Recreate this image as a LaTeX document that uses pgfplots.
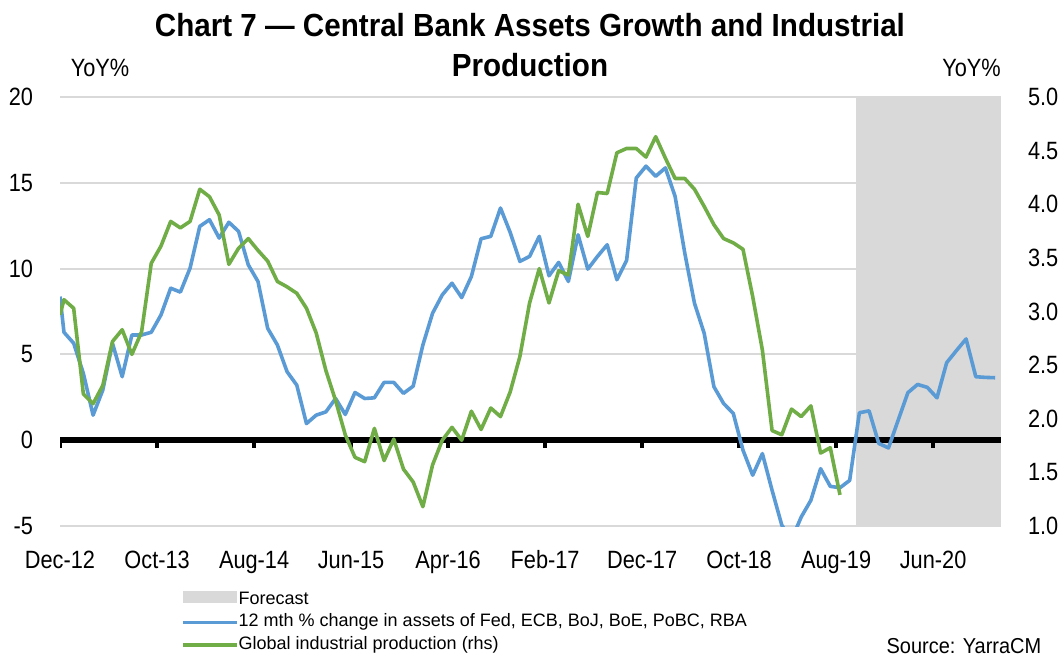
\documentclass[border=0pt]{standalone}
\usepackage{fontspec}
\usepackage{pgfplots}
\pgfplotsset{compat=1.18}
\setmainfont{Liberation Sans}
\newfontfamily\condfont{Liberation Sans}[FakeStretch=0.87]
\newfontfamily\titlefont{Liberation Sans}[FakeStretch=0.925]
\definecolor{cbblue}{HTML}{5B9BD5}
\definecolor{ipgreen}{HTML}{70AD47}
\definecolor{fcgray}{HTML}{D9D9D9}
\definecolor{gridgray}{HTML}{D9D9D9}
\newcommand{\tickfont}{\condfont\fontsize{12.5}{14}\selectfont}
\newcommand{\legfont}{\fontsize{9}{11}\selectfont}

\pgfplotstableread{
k v
-0.41 8.37
0 6.29
1 5.65
2 3.89
3 1.46
4 2.92
5 5.65
6 3.70
7 6.13
8 6.13
9 6.29
10 7.30
11 8.86
12 8.63
13 10.03
14 12.46
15 12.85
16 11.78
17 12.70
18 12.17
19 10.22
20 9.25
21 6.52
22 5.55
23 3.99
24 3.21
25 0.97
26 1.46
27 1.65
28 2.43
29 1.50
30 2.78
31 2.43
32 2.47
33 3.37
34 3.37
35 2.73
36 3.15
37 5.55
38 7.40
39 8.47
40 9.15
41 8.31
42 9.54
43 11.74
44 11.88
45 13.53
46 12.11
47 10.42
48 10.71
49 11.88
50 9.58
51 10.36
52 9.25
53 11.97
54 9.97
55 10.71
56 11.39
57 9.35
58 10.47
59 15.28
60 15.97
61 15.38
62 15.87
63 14.21
64 10.90
65 7.98
66 6.23
67 3.12
68 2.14
69 1.56
70 -0.58
71 -2.04
72 -0.78
73 -2.92
74 -4.95
75 -5.80
76 -4.48
77 -3.50
78 -1.66
79 -2.69
80 -2.77
81 -2.34
82 1.60
83 1.71
84 -0.19
85 -0.45
86 1.17
87 2.77
88 3.25
89 3.08
90 2.47
91 4.52
92 5.22
93 5.90
94 3.70
95 3.66
96 3.64
}\assets

\pgfplotstableread{
k v
-0.41 2.97
0 3.11
1 3.03
2 2.23
3 2.14
4 2.31
5 2.72
6 2.83
7 2.60
8 2.81
9 3.45
10 3.61
11 3.84
12 3.78
13 3.84
14 4.14
15 4.07
16 3.90
17 3.44
18 3.59
19 3.68
20 3.57
21 3.47
22 3.28
23 3.23
24 3.17
25 3.03
26 2.80
27 2.45
28 2.17
29 1.85
30 1.64
31 1.60
32 1.91
33 1.61
34 1.81
35 1.53
36 1.41
37 1.18
38 1.57
39 1.80
40 1.92
41 1.80
42 2.07
43 1.90
44 2.10
45 2.02
46 2.25
47 2.58
48 3.08
49 3.40
50 3.08
51 3.38
52 3.34
53 4.00
54 3.70
55 4.11
56 4.10
57 4.48
58 4.52
59 4.52
60 4.44
61 4.63
62 4.43
63 4.24
64 4.24
65 4.14
66 3.98
67 3.81
68 3.68
69 3.64
70 3.58
71 3.14
72 2.64
73 1.89
74 1.85
75 2.09
76 2.02
77 2.12
78 1.68
79 1.73
80 1.29
}\indprod

\begin{document}
\begin{tikzpicture}
\useasboundingbox (0,0) rectangle (532pt,329pt);
\begin{axis}[
  at={(30pt,66pt)}, anchor=south west,
  scale only axis, width=470.5pt, height=214.5pt,
  xmin=-0.41, xmax=96.6, ymin=-5, ymax=20,
  axis x line*=bottom, axis y line*=left,
  x axis line style={draw=none}, y axis line style={draw=none},
  major tick length=0pt,
  xtick={-0.41,9.6,19.6,29.6,39.6,49.6,59.6,69.6,79.6,89.6},
  xticklabels={Dec-12,Oct-13,Aug-14,Jun-15,Apr-16,Feb-17,Dec-17,Oct-18,Aug-19,Jun-20},
  ytick={-5,0,5,10,15,20},
  yticklabels={-5,0,5,10,15,20},
  ymajorgrids, grid style={color=gridgray, line width=1pt},
  ticklabel style={font=\tickfont, inner sep=0pt},
  xticklabel style={anchor=base, yshift=-21pt},
  yticklabel style={anchor=east, xshift=-13.3pt},
  /pgf/number format/assume math mode=true,
  legend image code/.code={\draw[#1] (0pt,0pt) -- (26.7pt,0pt);},
  legend cell align=left,
  legend style={at={(axis description cs:0.1293,-0.1464)}, anchor=north west,
    draw=none, fill=none, inner sep=0pt, outer sep=0pt, font=\legfont,
    row sep=0pt,
    nodes={inner sep=0pt, outer sep=0pt, text height=7.6pt, text depth=3.65pt},
    /tikz/every even column/.append style={column sep=2.6pt}},
]
\addplot[fill=fcgray, draw=none,
  legend image code/.code={\fill[fcgray] (0pt,-1.4pt) rectangle (26.7pt,4.4pt);}]
  coordinates {(81.6,-5) (96.6,-5) (96.6,20) (81.6,20)} -- cycle;
\addlegendentry{Forecast}
\draw[black, line width=3pt] (axis cs:-0.41,0) -- (axis cs:96.6,0);
\draw[black, line width=2pt] (axis cs:-0.41,0) -- ([yshift=-4pt]axis cs:-0.41,0);
\draw[black, line width=2pt] (axis cs:9.6,0) -- ([yshift=-4pt]axis cs:9.6,0);
\draw[black, line width=2pt] (axis cs:19.6,0) -- ([yshift=-4pt]axis cs:19.6,0);
\draw[black, line width=2pt] (axis cs:29.6,0) -- ([yshift=-4pt]axis cs:29.6,0);
\draw[black, line width=2pt] (axis cs:39.6,0) -- ([yshift=-4pt]axis cs:39.6,0);
\draw[black, line width=2pt] (axis cs:49.6,0) -- ([yshift=-4pt]axis cs:49.6,0);
\draw[black, line width=2pt] (axis cs:59.6,0) -- ([yshift=-4pt]axis cs:59.6,0);
\draw[black, line width=2pt] (axis cs:69.6,0) -- ([yshift=-4pt]axis cs:69.6,0);
\draw[black, line width=2pt] (axis cs:79.6,0) -- ([yshift=-4pt]axis cs:79.6,0);
\draw[black, line width=2pt] (axis cs:89.6,0) -- ([yshift=-4pt]axis cs:89.6,0);
\addplot[cbblue, line width=1.8pt, line join=round] table[x=k, y=v] {\assets};
\addlegendentry{12 mth \% change in assets of Fed, ECB, BoJ, BoE, PoBC, RBA}
\addlegendimage{ipgreen, line width=1.8pt}
\addlegendentry{Global industrial production (rhs)}
\end{axis}
\begin{axis}[
  at={(30pt,66pt)}, anchor=south west,
  scale only axis, width=470.5pt, height=214.5pt,
  xmin=-0.41, xmax=96.6, ymin=1, ymax=5,
  axis x line=none, axis y line*=right,
  y axis line style={draw=none},
  major tick length=0pt,
  ytick={1,1.5,2,2.5,3,3.5,4,4.5,5},
  yticklabels={1.0,1.5,2.0,2.5,3.0,3.5,4.0,4.5,5.0},
  ticklabel style={font=\tickfont, inner sep=0pt},
  yticklabel style={anchor=west, xshift=13.3pt},
  /pgf/number format/assume math mode=true,
]
\addplot[ipgreen, line width=1.8pt, line join=round] table[x=k, y=v] {\indprod};
\end{axis}
\node[anchor=base, font=\titlefont\bfseries\fontsize{16}{19}\selectfont] at (265pt,310.5pt) {Chart 7 — Central Bank Assets Growth and Industrial};
\node[anchor=base, font=\titlefont\bfseries\fontsize{16}{19}\selectfont] at (265pt,290.5pt) {Production};
\node[anchor=base, font=\tickfont, inner sep=0pt] at (50pt,290.5pt) {YoY\%};
\node[anchor=base, font=\tickfont, inner sep=0pt] at (485.75pt,290.5pt) {YoY\%};
\node[anchor=base east, font=\titlefont\fontsize{10.8}{12}\selectfont, inner sep=0pt] at (520.85pt,2.5pt) {Source: YarraCM};
\end{tikzpicture}
\end{document}
